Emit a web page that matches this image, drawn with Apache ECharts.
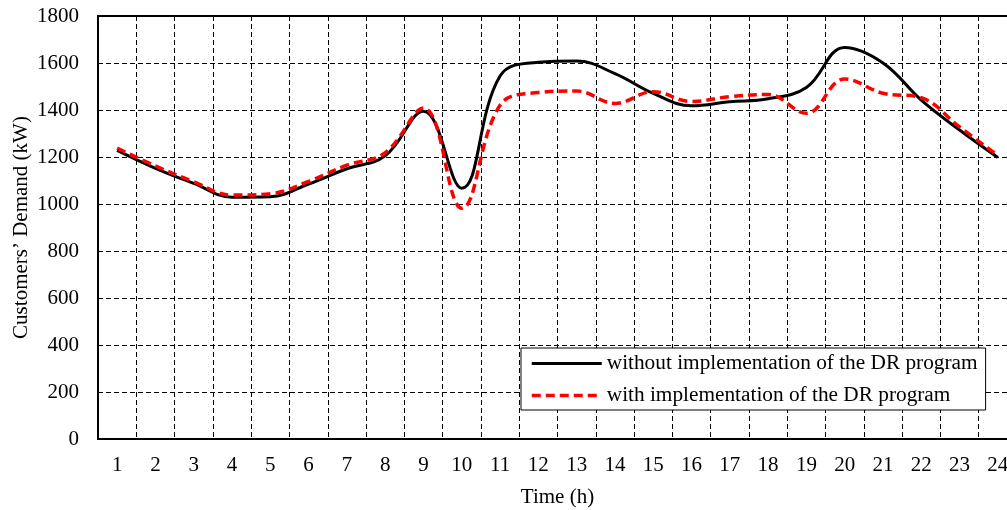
<!DOCTYPE html>
<html>
<head>
<meta charset="utf-8">
<script src="https://cdn.jsdelivr.net/npm/echarts@6/dist/echarts.min.js"></script>
<style>
  html, body { margin: 0; padding: 0; background: #fff; }
  #chart { width: 1007px; height: 510px; }
</style>
</head>
<body>
<div id="chart"></div>
<script>
// Hours of the day
const hours = ['1','2','3','4','5','6','7','8','9','10','11','12','13','14','15','16','17','18','19','20','21','22','23','24'];

// Customers' demand (kW) without the DR program
const demandBase = [1228, 1152, 1088, 1029, 1031, 1085, 1150, 1205, 1395, 1067, 1545, 1603,
                    1608, 1555, 1471, 1418, 1435, 1448, 1496, 1666, 1600, 1442, 1315, 1198];

// Customers' demand (kW) with the DR program
const demandDR = [1238, 1162, 1095, 1038, 1044, 1096, 1165, 1218, 1408, 982, 1420, 1474,
                  1481, 1428, 1478, 1436, 1457, 1466, 1386, 1532, 1471, 1452, 1328, 1206];

const seriesNames = ['without implementation of the DR program', 'with implementation of the DR program'];

const serif = 'Liberation Serif, Times New Roman, serif';
const gridDash = { color: '#000', width: 1, type: [5, 3] };

const chart = echarts.init(document.getElementById('chart'), null, { renderer: 'canvas' });
chart.setOption({
  animation: false,
  backgroundColor: '#fff',
  grid: {
    left: 98, right: -10, top: 16, bottom: 71,
    containLabel: false,
    outerBoundsMode: 'none',
    show: true, borderColor: '#000', borderWidth: 2, backgroundColor: 'transparent'
  },
  legend: {
    orient: 'vertical',
    left: 521, top: 348,
    padding: [5, 8, 4, 9],
    itemGap: 11,
    itemWidth: 70,
    itemHeight: 14,
    backgroundColor: '#fff',
    borderColor: '#000',
    borderWidth: 1,
    itemStyle: { opacity: 0 },
    textStyle: { fontFamily: serif, fontSize: 21.3, color: '#000' },
    data: [
      { name: seriesNames[0], lineStyle: { color: '#000', width: 3, type: 'solid' } },
      { name: seriesNames[1], lineStyle: { color: '#ff0000', width: 3.5, type: [9, 5] } }
    ]
  },
  xAxis: {
    type: 'category',
    data: hours,
    boundaryGap: true,
    name: 'Time (h)',
    nameLocation: 'middle',
    nameGap: 48,
    nameMoveOverlap: false,
    nameTextStyle: { fontFamily: serif, fontSize: 21, color: '#000' },
    axisLine: { lineStyle: { color: '#000', width: 2 } },
    axisTick: { show: false },
    axisLabel: { fontFamily: serif, fontSize: 21, color: '#000', margin: 16, interval: 0 },
    splitLine: { show: true, interval: 0, lineStyle: gridDash }
  },
  yAxis: {
    type: 'value',
    min: 0, max: 1800, interval: 200,
    name: 'Customers\u2019 Demand (kW)',
    nameLocation: 'middle',
    nameGap: 66,
    nameMoveOverlap: false,
    nameTextStyle: { fontFamily: serif, fontSize: 21, color: '#000' },
    axisLine: { show: true, lineStyle: { color: '#000', width: 2 } },
    axisTick: { show: false },
    axisLabel: { fontFamily: serif, fontSize: 21, color: '#000', margin: 19, formatter: v => String(v) },
    splitLine: { show: true, lineStyle: gridDash }
  },
  series: [
    {
      name: seriesNames[0],
      type: 'line',
      data: demandBase,
      smooth: 0.4,
      symbol: 'none',
      lineStyle: { color: '#000', width: 3 },
      itemStyle: { color: '#000' },
      z: 3
    },
    {
      name: seriesNames[1],
      type: 'line',
      data: demandDR,
      smooth: 0.4,
      symbol: 'none',
      lineStyle: { color: '#ff0000', width: 3.5, type: [9, 5] },
      itemStyle: { color: '#ff0000' },
      z: 4
    }
  ]
});
</script>
</body>
</html>
